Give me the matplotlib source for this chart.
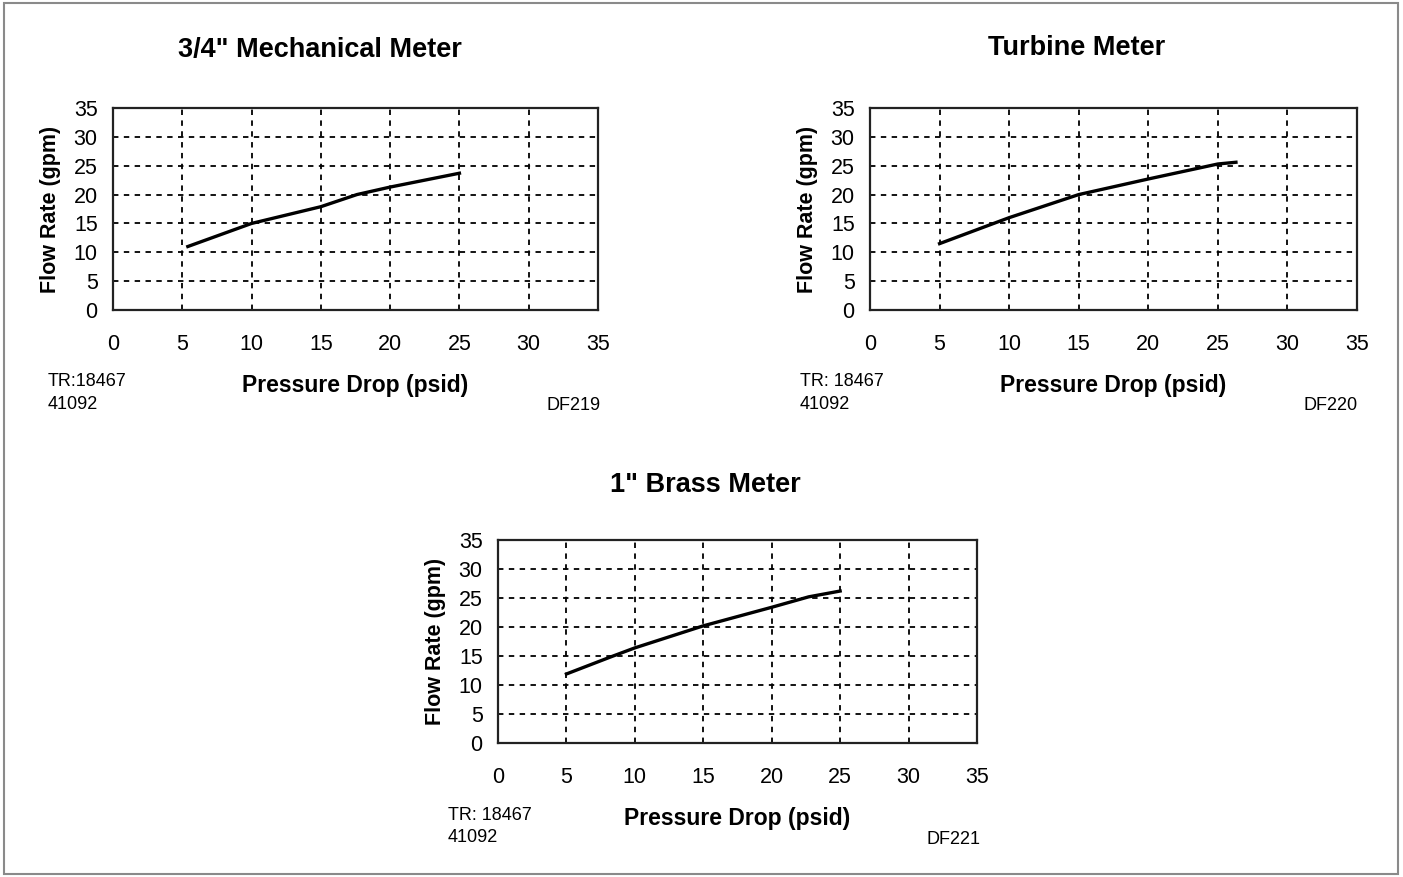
import matplotlib
matplotlib.use("Agg")
import matplotlib.pyplot as plt
from matplotlib.patches import Rectangle

W, H = 1403, 877

# chart data (pressure drop psid -> flow rate gpm)
mech_x = [5.4, 10, 15, 17.6, 20, 25]
mech_y = [11.0, 15.0, 17.9, 20.0, 21.3, 23.7]

turb_x = [5, 10, 15, 20, 25, 26.3]
turb_y = [11.5, 16.0, 20.0, 22.7, 25.3, 25.6]

brass_x = [5, 8.3, 10, 15, 20, 22.7, 25]
brass_y = [11.9, 14.9, 16.4, 20.2, 23.4, 25.2, 26.2]

titles = ['3/4" Mechanical Meter', 'Turbine Meter', '1" Brass Meter']
tr_labels = ["TR:18467", "TR: 18467", "TR: 18467"]
df_labels = ["DF219", "DF220", "DF221"]
ticks = [0, 5, 10, 15, 20, 25, 30, 35]

# axes boxes in pixels: left, top, right, bottom
boxes = [(113, 108, 598, 310), (870, 108, 1357, 310), (498, 540, 977, 743)]
title_xy = [(320, 50), (1077, 48), (705, 485)]
tr_x = [48, 800, 448]
df_x = [601, 1358, 980]

plt.rcParams["font.family"] = ["Liberation Sans", "DejaVu Sans"]

fig = plt.figure(figsize=(W / 100, H / 100), dpi=100)
fig.patches.append(Rectangle((4 / W, 3 / H), 1394 / W, 871 / H, transform=fig.transFigure,
                             fill=False, edgecolor="#8a8a8a", linewidth=1.5))


def px(x, y):
    return x / W, 1 - y / H


series = [(mech_x, mech_y), (turb_x, turb_y), (brass_x, brass_y)]
for i, (xs, ys) in enumerate(series):
    l, t, r, b = boxes[i]
    ax = fig.add_axes([l / W, 1 - b / H, (r - l) / W, (b - t) / H])
    ax.plot(xs, ys, color="black", linewidth=2.4)
    ax.set_xlim(0, 35)
    ax.set_ylim(0, 35)
    ax.set_xticks(ticks)
    ax.set_yticks(ticks)
    ax.tick_params(length=0, labelsize=15.5)
    ax.tick_params(axis="x", pad=17)
    ax.tick_params(axis="y", pad=11)
    ax.grid(True, color="black", linestyle=(0, (3, 3)), linewidth=1.3)
    for s in ax.spines.values():
        s.set_linewidth(1.6)
        s.set_color("#222222")
    ax.set_ylabel("Flow Rate (gpm)", fontsize=15.5, fontweight="bold", labelpad=9)
    ax.set_xlabel("Pressure Drop (psid)", fontsize=16.5, fontweight="bold", labelpad=14)

    tx, ty = title_xy[i]
    fig.text(*px(tx, ty), titles[i], fontsize=19.5, fontweight="bold",
             ha="center", va="center")
    fig.text(*px(tr_x[i], b + 72), tr_labels[i], fontsize=13, ha="left", va="center")
    fig.text(*px(tr_x[i], b + 95), "41092", fontsize=13, ha="left", va="center")
    fig.text(*px(df_x[i], b + 96), df_labels[i], fontsize=13, ha="right", va="center")

fig.savefig("out.png", dpi=100)
